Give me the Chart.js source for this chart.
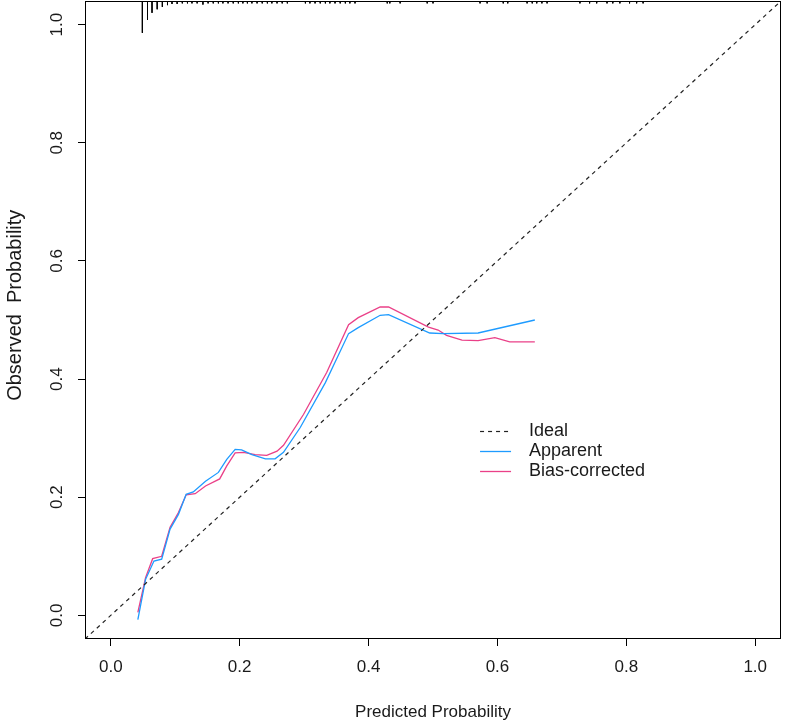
<!DOCTYPE html>
<html>
<head>
<meta charset="utf-8">
<title>Calibration Curve</title>
<script src="https://cdn.jsdelivr.net/npm/chart.js@4.4.0/dist/chart.umd.min.js"></script>
<style>
    html, body { margin: 0; padding: 0; background: #fff; }
    #calPlot { display: block; }
</style>
</head>
<body>
<canvas id="calPlot" width="786" height="725"></canvas>
<script>
    // axis limits (R style 4% extension) and ticks
    const axisMin = -0.04;
    const axisMax = 1.04;
    const tickValues = [0, 0.2, 0.4, 0.6, 0.8, 1.0];
    const tickLabels = ['0.0', '0.2', '0.4', '0.6', '0.8', '1.0'];
    const xTitle = 'Predicted Probability';
    const yTitle = 'Observed  Probability';
    const legendLabels = ['Ideal', 'Apparent', 'Bias-corrected'];

    // apparent calibration curve
    const predApparent = [0.042, 0.054, 0.067, 0.079, 0.092, 0.105, 0.117, 0.128, 0.147, 0.167, 0.180, 0.193,
        0.203, 0.219, 0.240, 0.255, 0.268, 0.294, 0.333, 0.369, 0.384, 0.418, 0.431, 0.495, 0.516, 0.570, 0.658];
    const obsApparent = [-0.007, 0.061, 0.092, 0.095, 0.146, 0.171, 0.205, 0.209, 0.227, 0.242, 0.264, 0.281,
        0.280, 0.272, 0.265, 0.265, 0.276, 0.318, 0.394, 0.477, 0.487, 0.508, 0.509, 0.478, 0.477, 0.478, 0.500];

    // bias-corrected calibration curve
    const predBias = [0.042, 0.054, 0.065, 0.079, 0.092, 0.105, 0.117, 0.131, 0.147, 0.169, 0.180, 0.193, 0.206,
        0.224, 0.242, 0.258, 0.268, 0.299, 0.335, 0.369, 0.384, 0.418, 0.431, 0.493, 0.508, 0.521, 0.545, 0.570,
        0.596, 0.619, 0.658];
    const obsBias = [0.005, 0.064, 0.096, 0.100, 0.149, 0.174, 0.204, 0.206, 0.219, 0.231, 0.253, 0.275, 0.276,
        0.272, 0.271, 0.278, 0.288, 0.340, 0.411, 0.492, 0.504, 0.522, 0.522, 0.488, 0.483, 0.474, 0.466, 0.465,
        0.470, 0.463, 0.463];

    // distribution of predictions (spikes hanging from the top frame), heights in probability units
    const rugX = [0.049, 0.057, 0.064, 0.072, 0.080, 0.088, 0.095, 0.103, 0.111, 0.119, 0.126, 0.134, 0.143,
        0.151, 0.159, 0.167, 0.174, 0.182, 0.190, 0.198, 0.205, 0.212, 0.219, 0.227, 0.235, 0.243, 0.250, 0.258,
        0.266, 0.274, 0.302, 0.309, 0.317, 0.325, 0.333, 0.340, 0.348, 0.356, 0.364, 0.371, 0.379, 0.429, 0.433,
        0.449, 0.491, 0.500, 0.573, 0.584, 0.609, 0.616, 0.646, 0.654, 0.661, 0.669, 0.677, 0.728, 0.743, 0.754,
        0.770, 0.779, 0.790, 0.805, 0.816, 0.826];
    const rugH = [0.054, 0.032, 0.020, 0.014, 0.010, 0.007, 0.005, 0.005, 0.004, 0.004, 0.004, 0.004, 0.006,
        0.004, 0.004, 0.004, 0.004, 0.004, 0.004, 0.004, 0.004, 0.004, 0.004, 0.004, 0.004, 0.004, 0.004, 0.004,
        0.004, 0.004, 0.004, 0.004, 0.004, 0.004, 0.004, 0.004, 0.004, 0.004, 0.004, 0.004, 0.004, 0.004, 0.004,
        0.004, 0.004, 0.004, 0.004, 0.004, 0.004, 0.004, 0.004, 0.004, 0.004, 0.004, 0.004, 0.004, 0.004, 0.004,
        0.004, 0.004, 0.004, 0.004, 0.004, 0.004];

    const FONT = '"Liberation Sans", Arial, sans-serif';

    function toPoints(xs, ys) {
        return xs.map((x, i) => ({ x: x, y: ys[i] }));
    }

    // each spike is a short segment, separated by a gap point
    const rugPoints = [];
    rugX.forEach((x, i) => {
        rugPoints.push({ x: x, y: axisMax });
        rugPoints.push({ x: x, y: axisMax - rugH[i] });
        rugPoints.push({ x: x, y: null });
    });

    // box, tick labels, axis titles and legend, R base graphics look
    const rPlotDecor = {
        id: 'rPlotDecor',
        afterDraw(chart) {
            const { ctx, chartArea: a, scales } = chart;
            const xs = scales.x, ys = scales.y;
            ctx.save();

            ctx.strokeStyle = '#000';
            ctx.lineWidth = 1;
            ctx.strokeRect(a.left + 0.5, a.top + 0.5, a.right - a.left - 1, a.bottom - a.top - 1);

            ctx.fillStyle = '#1a1a1a';
            ctx.font = '17px ' + FONT;
            ctx.textAlign = 'center';
            ctx.textBaseline = 'middle';
            tickValues.forEach((v, i) => {
                ctx.fillText(tickLabels[i], xs.getPixelForValue(v), a.bottom + 28);
            });
            tickValues.forEach((v, i) => {
                ctx.save();
                ctx.translate(a.left - 28, ys.getPixelForValue(v));
                ctx.rotate(-Math.PI / 2);
                ctx.fillText(tickLabels[i], 0, 0);
                ctx.restore();
            });

            ctx.font = '17px ' + FONT;
            ctx.fillText(xTitle, (a.left + a.right) / 2, a.bottom + 73);
            ctx.save();
            ctx.translate(15, ys.getPixelForValue(0.525));
            ctx.rotate(-Math.PI / 2);
            ctx.font = '20px ' + FONT;
            ctx.fillText(yTitle, 0, 0);
            ctx.restore();

            // legend
            const lx = xs.getPixelForValue(0.573);
            const ly = ys.getPixelForValue(0.312);
            ctx.font = '18px ' + FONT;
            ctx.textAlign = 'left';
            const sets = chart.data.datasets.slice(1);
            sets.forEach((ds, i) => {
                const yy = Math.round(ly + i * 20) + 0.5;
                ctx.beginPath();
                ctx.strokeStyle = ds.borderColor;
                ctx.lineWidth = ds.borderWidth;
                ctx.setLineDash(ds.borderDash || []);
                ctx.moveTo(lx, yy);
                ctx.lineTo(lx + 31, yy);
                ctx.stroke();
                ctx.setLineDash([]);
                ctx.fillStyle = '#1a1a1a';
                ctx.fillText(legendLabels[i], lx + 49, yy);
            });
            ctx.restore();
        }
    };

    function fixTicks(scale) {
        scale.ticks = tickValues.map(v => ({ value: v }));
    }

    new Chart(document.getElementById('calPlot'), {
        type: 'line',
        data: {
            datasets: [
                {
                    label: 'rug',
                    data: rugPoints,
                    borderColor: '#000',
                    borderWidth: 1,
                    pointRadius: 0,
                    spanGaps: false
                },
                {
                    label: legendLabels[0],
                    data: [{ x: axisMin, y: axisMin }, { x: axisMax, y: axisMax }],
                    borderColor: '#222',
                    borderWidth: 1.2,
                    borderDash: [4, 4],
                    pointRadius: 0
                },
                {
                    label: legendLabels[1],
                    data: toPoints(predApparent, obsApparent),
                    borderColor: '#1e9bff',
                    borderWidth: 1.3,
                    pointRadius: 0
                },
                {
                    label: legendLabels[2],
                    data: toPoints(predBias, obsBias),
                    borderColor: '#ea4088',
                    borderWidth: 1.3,
                    pointRadius: 0
                }
            ]
        },
        options: {
            responsive: false,
            animation: false,
            devicePixelRatio: 1,
            layout: { padding: { left: 0, right: 5, top: 1, bottom: 0 } },
            plugins: {
                legend: { display: false },
                tooltip: { enabled: false }
            },
            scales: {
                x: {
                    type: 'linear',
                    min: axisMin,
                    max: axisMax,
                    afterBuildTicks: fixTicks,
                    afterFit: (s) => { s.height = 86; },
                    ticks: { display: false },
                    border: { display: false },
                    grid: { drawOnChartArea: false, drawTicks: true, tickLength: 7, color: '#000', lineWidth: 1 }
                },
                y: {
                    type: 'linear',
                    min: axisMin,
                    max: axisMax,
                    afterBuildTicks: fixTicks,
                    afterFit: (s) => { s.width = 85; },
                    ticks: { display: false },
                    border: { display: false },
                    grid: { drawOnChartArea: false, drawTicks: true, tickLength: 7, color: '#000', lineWidth: 1 }
                }
            }
        },
        plugins: [rPlotDecor]
    });
</script>
</body>
</html>
